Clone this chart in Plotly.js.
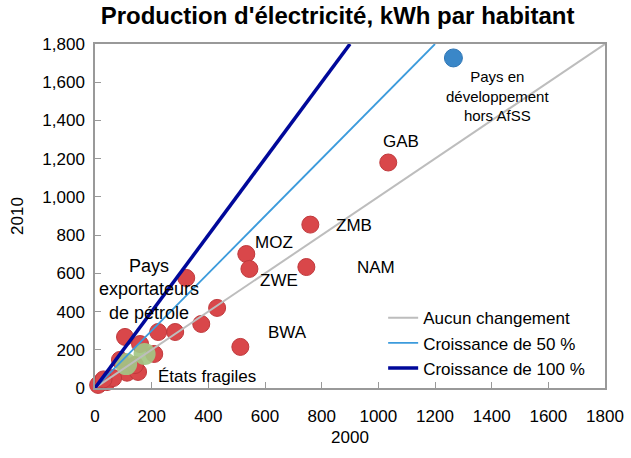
<!DOCTYPE html>
<html><head><meta charset="utf-8">
<script src="https://cdn.plot.ly/plotly-3.0.1.min.js"></script>
<style>body{margin:0;background:#fff}#c{width:631px;height:458px}</style>
</head><body><div id="c"></div>
<script>
// Country points (kWh per capita): 2000 vs 2010
const countryX = [1035, 760, 534, 545, 746, 513, 322, 431, 375, 283, 223, 106, 159, 209, 88, 113, 152, 18, 42, 11, 141, 64, 30];
const countryY = [1180, 855, 701, 623, 633, 215, 576, 419, 335, 293, 293, 267, 230, 178, 147, 80, 84, 26, 31, 16, 120, 52, 45];
const fragileX = [110, 175];
const fragileY = [125, 178];
const devX = [1265];
const devY = [1727];
const refX = [0, 1800];
const noChangeY = [0, 1800];
const growth50X = [0, 1200];
const growth50Y = [0, 1800];
const growth100X = [0, 900];
const growth100Y = [0, 1800];
const labels = [
  {t: "GAB", x: 1080, y: 1290, s: 17},
  {t: "ZMB", x: 915, y: 850, s: 17},
  {t: "MOZ", x: 633, y: 760, s: 17},
  {t: "ZWE", x: 650, y: 560, s: 17},
  {t: "NAM", x: 990, y: 630, s: 17},
  {t: "BWA", x: 680, y: 290, s: 17},
  {t: "Pays<br>exportateurs<br>de pétrole", x: 192, y: 515, s: 18},
  {t: "États fragiles", x: 395, y: 60, s: 17},
  {t: "Pays en<br>développement<br>hors AfSS", x: 1420, y: 1530, s: 15}
];

const font = "Liberation Sans, Arial, sans-serif";
const traces = [
  {x: countryX, y: countryY, mode: "markers", showlegend: false, cliponaxis: false,
   marker: {color: "#D9474A", size: 17, line: {color: "#C0393C", width: 1}}},
  {x: fragileX, y: fragileY, mode: "markers", showlegend: false, cliponaxis: false,
   marker: {color: "rgba(163,198,132,0.92)", size: 22, line: {width: 0}}},
  {x: devX, y: devY, mode: "markers", showlegend: false, cliponaxis: false,
   marker: {color: "#3A87C8", size: 18, line: {color: "#2F76B5", width: 1}}},
  {x: refX, y: noChangeY, mode: "lines", name: "Aucun changement", legendrank: 1, line: {color: "#BDBDBD", width: 2}},
  {x: growth50X, y: growth50Y, mode: "lines", name: "Croissance de 50 %", legendrank: 2, line: {color: "#3C9BDC", width: 1.8}},
  {x: growth100X, y: growth100Y, mode: "lines", name: "Croissance de 100 %", legendrank: 3, line: {color: "#00089A", width: 3.5}}
];
const layout = {
  width: 631, height: 458,
  margin: {l: 95, r: 26, t: 44, b: 70},
  paper_bgcolor: "#fff", plot_bgcolor: "#fff",
  font: {family: font, size: 17, color: "#000"},
  title: {text: "<b>Production d'électricité, kWh par habitant</b>", x: 0.535, xanchor: "center", y: 0.985, yanchor: "top", font: {size: 24, family: font}},
  xaxis: {range: [0, 1800], dtick: 200, tickformat: "d", ticks: "inside", ticklen: 6, tickcolor: "#999",
    ticklabelstandoff: 12, tickfont: {size: 17},
    showgrid: false, zeroline: false, showline: true, linecolor: "#999", linewidth: 2, mirror: true,
    title: {text: "2000", font: {size: 17}, standoff: 6}},
  yaxis: {range: [0, 1800], dtick: 200, tickformat: ",d", ticksuffix: "\u00a0", ticks: "inside", ticklen: 6, tickcolor: "#999",
    tickfont: {size: 17},
    showgrid: false, zeroline: false, showline: true, linecolor: "#999", linewidth: 2, mirror: true,
    title: {text: "2010", font: {size: 17}, standoff: 14}},
  legend: {x: 0.565, y: 0.255, xanchor: "left", yanchor: "top", bgcolor: "rgba(0,0,0,0)", font: {size: 17}, tracegroupgap: 0},
  annotations: labels.map(l => ({x: l.x, y: l.y, text: l.t, showarrow: false, font: {size: l.s}})),
  showlegend: true
};
Plotly.newPlot("c", traces, layout, {displayModeBar: false, staticPlot: true});
</script></body></html>
